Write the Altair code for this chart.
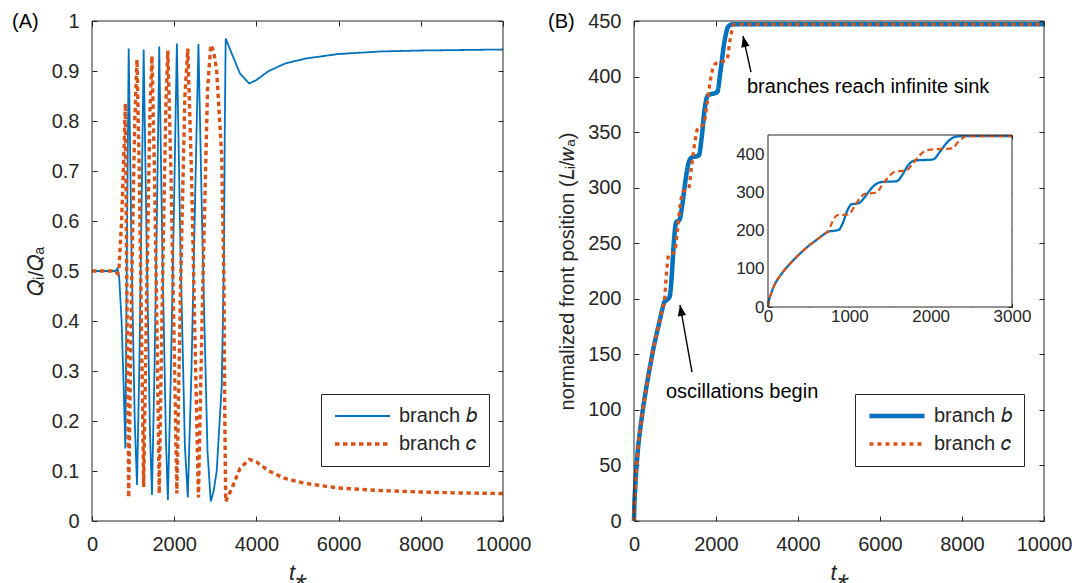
import altair as alt
import pandas as pd

# ---------------- data ----------------
# Panel (A): flow fraction Q_i/Q_a vs t*
tA = [0, 300, 560, 620, 660, 720, 770, 812,
      850, 893,
      960, 1040, 1095,
      1150, 1210, 1257,
      1330, 1410, 1459,
      1520, 1590, 1636,
      1710, 1800, 1846,
      1920, 2000, 2065,
      2150, 2260, 2331,
      2420, 2510, 2590,
      2690, 2810, 2889,
      2960, 3034, 3156, 3212, 3232, 3253,
      3400, 3600, 3826, 4000, 4300, 4700, 5200, 6000, 7000, 8000, 9000, 10000]
qb = [0.5, 0.5, 0.5, 0.505, 0.49, 0.40, 0.27, 0.145,
      0.55, 0.945,
      0.55, 0.20, 0.072,
      0.30, 0.65, 0.943,
      0.55, 0.18, 0.052,
      0.30, 0.67, 0.949,
      0.55, 0.16, 0.042,
      0.30, 0.65, 0.955,
      0.55, 0.15, 0.047,
      0.30, 0.65, 0.954,
      0.55, 0.14, 0.039,
      0.06, 0.10, 0.27, 0.53, 0.80, 0.965,
      0.935, 0.895, 0.875, 0.882, 0.900, 0.915, 0.925, 0.934, 0.939, 0.941, 0.942, 0.943]
qc = [0.5, 0.5, 0.5, 0.495, 0.51, 0.60, 0.72, 0.835,
      0.45, 0.047,
      0.45, 0.80, 0.923,
      0.70, 0.35, 0.068,
      0.45, 0.82, 0.930,
      0.70, 0.33, 0.055,
      0.45, 0.84, 0.941,
      0.70, 0.35, 0.055,
      0.45, 0.85, 0.945,
      0.70, 0.35, 0.047,
      0.45, 0.86, 0.952,
      0.94, 0.90, 0.73, 0.47, 0.20, 0.039,
      0.065, 0.105, 0.123, 0.118, 0.100, 0.085, 0.075, 0.066, 0.061, 0.058, 0.056, 0.055]

# Panel (B): normalized front position L_i/w_a vs t*
tBb = [0, 10, 30, 60, 100, 150, 200, 300, 400, 500, 600, 700, 740, 800, 870, 920, 970, 1030,
       1110, 1180, 1250, 1330, 1400, 1580, 1650, 1720, 1800, 2030, 2110, 2200, 2300, 2400, 3000, 10000]
Lb = [0, 15, 30, 48, 66, 82, 96, 120, 141, 160, 176, 192, 197, 199, 202, 220, 250, 269,
      271, 285, 305, 322, 327, 329, 345, 370, 383, 386, 405, 430, 445, 447, 447, 447]
tBc = [0, 10, 30, 60, 100, 150, 200, 300, 400, 500, 600, 700, 740, 790, 850, 990, 1060, 1130,
       1190, 1330, 1400, 1480, 1560, 1700, 1780, 1870, 1950, 2010, 2270, 2330, 2400, 2440, 3000, 10000]
Lc = [0, 15, 30, 48, 66, 82, 96, 120, 141, 160, 176, 192, 198, 222, 240, 242, 262, 285,
      296, 299, 318, 340, 354, 357, 375, 398, 410, 412, 415, 430, 443, 447, 447, 447]

series = ["branch 𝑏", "branch 𝑐"]

xticks_main = [0, 2000, 4000, 6000, 8000, 10000]
yticks_A = [0, 0.1, 0.2, 0.3, 0.4, 0.5, 0.6, 0.7, 0.8, 0.9, 1.0]
yticks_B = [0, 50, 100, 150, 200, 250, 300, 350, 400, 450]
xticks_in = [0, 500, 1000, 1500, 2000, 2500, 3000]
yticks_in = [0, 100, 200, 300, 400]

notes_t = [2756, 780]
notes_L = [390.6, 116]
notes_txt = ["branches reach infinite sink", "oscillations begin"]
arrow_id = ["a1", "a1", "a2", "a2"]
arrow_t = [2854, 2659, 1415, 1122]
arrow_L = [404, 436.5, 134, 194.4]
head_t = [2659, 1122]
head_L = [436.5, 194.4]
head_ang = [347.5, 350]

# ---------------- styling ----------------
BLUE = "#0072BD"
ORANGE = "#D95319"
INK = "#262626"
FONT = "Liberation Sans"
W, H = 1072, 583
AXR = [92, 503]
BXR = [634, 1044]
PYR = [521, 21]
IXR = [768, 1012]
IYR = [307, 135]

dfA = pd.DataFrame({"t": tA + tA, "v": qb + qc,
                    "s": [series[0]] * len(tA) + [series[1]] * len(tA)})
dfB = pd.DataFrame({"t": tBb + tBc, "v": Lb + Lc,
                    "s": [series[0]] * len(tBb) + [series[1]] * len(tBc)})
dfI = dfB[dfB["t"] <= 3000].copy()


def sc(dom, rng):
    return alt.Scale(domain=dom, range=rng, nice=False, zero=False)


def ax(orient, offset, values, tick=5, labels=True, title=None, size=20, pad=13, fmt="d", **kw):
    d = dict(orient=orient, offset=offset, values=values, tickSize=tick, domain=False,
             grid=False, labels=labels, ticks=True, tickColor=INK, tickWidth=1,
             labelColor=INK, labelFont=FONT, labelFontSize=size, labelPadding=pad,
             labelFlush=False, labelOverlap=False, format=fmt, title=title,
             titleFont=FONT, titleColor=INK, titleFontWeight="normal")
    d.update(kw)
    return alt.Axis(**d)


def legend(x, y):
    return alt.Legend(title=None, orient="none", legendX=x, legendY=y, padding=12,
                      strokeColor=INK, fillColor="white", labelFont=FONT, labelFontSize=20,
                      labelColor=INK, symbolSize=3025, labelOffset=7, clipHeight=20,
                      rowPadding=8, symbolType="stroke", cornerRadius=0)


box = lambda x1, y1: pd.DataFrame({"x0": [0], "x1": [x1], "y0": [0], "y1": [y1]})

# ---------------- panel A ----------------
legA = legend(321, 394)
A_lines = alt.Chart(dfA).mark_line(interpolate="linear").encode(
    x=alt.X("t:Q", scale=sc([0, 10000], AXR),
            axis=ax("bottom", -67, xticks_main, title="t⁎", titleFontSize=22,
                    titleFontStyle="italic", titleY=46)),
    y=alt.Y("v:Q", scale=sc([0, 1], PYR),
            axis=ax("left", -97, yticks_A, title="𝑄ᵢ/𝑄ₐ", titleFontSize=21, titleX=-51,
                    fmt="~g")),
    color=alt.Color("s:N", scale=alt.Scale(domain=series, range=[BLUE, ORANGE]), legend=legA),
    strokeDash=alt.StrokeDash("s:N", scale=alt.Scale(domain=series, range=[[1, 0], [4.5, 3.5]]),
                              legend=legA),
    strokeWidth=alt.StrokeWidth("s:N", scale=alt.Scale(domain=series, range=[1.8, 3.4]),
                                legend=legA),
)
A_frame = alt.Chart(box(10000, 1)).mark_rect(fillOpacity=0, stroke=INK, strokeWidth=1).encode(
    x=alt.X("x0:Q", scale=sc([0, 10000], AXR), axis=ax("top", -26, xticks_main, labels=False)),
    x2="x1:Q",
    y=alt.Y("y0:Q", scale=sc([0, 1], PYR),
            axis=ax("right", -(W - AXR[1] + 5), yticks_A, labels=False, fmt="~g")),
    y2="y1:Q",
)
A_tag = alt.Chart(pd.DataFrame({"t": [-1946], "v": [0.998], "lab": ["(A)"]})).mark_text(
    align="left", baseline="middle", font=FONT, fontSize=20, color="black").encode(
    x=alt.X("t:Q", scale=sc([0, 10000], AXR), axis=None),
    y=alt.Y("v:Q", scale=sc([0, 1], PYR), axis=None),
    text="lab:N",
)

# ---------------- panel B ----------------
legB = legend(855, 394)
B_lines = alt.Chart(dfB).mark_line(interpolate="monotone").encode(
    x=alt.X("t:Q", scale=sc([0, 10000], BXR),
            axis=ax("bottom", -67, xticks_main, title="t⁎", titleFontSize=22,
                    titleFontStyle="italic", titleY=46)),
    y=alt.Y("v:Q", scale=sc([0, 450], PYR),
            axis=ax("left", -(BXR[0] + 5), yticks_B, title="normalized front position (𝐿ᵢ/𝑤ₐ)",
                    titleFontSize=20, titleX=-62)),
    color=alt.Color("s:N", scale=alt.Scale(domain=series, range=[BLUE, ORANGE]), legend=legB),
    strokeDash=alt.StrokeDash("s:N", scale=alt.Scale(domain=series, range=[[1, 0], [4, 4]]),
                              legend=legB),
    strokeWidth=alt.StrokeWidth("s:N", scale=alt.Scale(domain=series, range=[4.5, 3.3]),
                                legend=legB),
)
B_frame = alt.Chart(box(10000, 450)).mark_rect(fillOpacity=0, stroke=INK, strokeWidth=1).encode(
    x=alt.X("x0:Q", scale=sc([0, 10000], BXR), axis=ax("top", -26, xticks_main, labels=False)),
    x2="x1:Q",
    y=alt.Y("y0:Q", scale=sc([0, 450], PYR), axis=ax("right", -(W - BXR[1] + 5), yticks_B, labels=False)),
    y2="y1:Q",
)
B_tag = alt.Chart(pd.DataFrame({"t": [-2098], "v": [449], "lab": ["(B)"]})).mark_text(
    align="left", baseline="middle", font=FONT, fontSize=20, color="black").encode(
    x=alt.X("t:Q", scale=sc([0, 10000], BXR), axis=None),
    y=alt.Y("v:Q", scale=sc([0, 450], PYR), axis=None),
    text="lab:N",
)

# inset
I_bg = alt.Chart(box(3000, 450)).mark_rect(fill="white", stroke=None).encode(
    x=alt.X("x0:Q", scale=sc([0, 3000], IXR),
            axis=ax("bottom", -(H - IYR[0] + 4), xticks_in, tick=4, size=17, pad=1,
                    labelExpr="datum.value % 1000 == 0 ? datum.label : ''")),
    x2="x1:Q",
    y=alt.Y("y0:Q", scale=sc([0, 450], IYR),
            axis=ax("left", -(IXR[0] + 4), yticks_in, tick=4, size=17, pad=4)),
    y2="y1:Q",
)
I_lines = alt.Chart(dfI).mark_line(interpolate="monotone").encode(
    x=alt.X("t:Q", scale=sc([0, 3000], IXR),
            axis=ax("top", -(IYR[1] + 4), xticks_in, tick=4, labels=False)),
    y=alt.Y("v:Q", scale=sc([0, 450], IYR),
            axis=ax("right", -(W - IXR[1] + 4), yticks_in, tick=4, labels=False)),
    color=alt.Color("s:N", scale=alt.Scale(domain=series, range=[BLUE, ORANGE]), legend=None),
    strokeDash=alt.StrokeDash("s:N", scale=alt.Scale(domain=series, range=[[1, 0], [6, 3.5]]),
                              legend=None),
    strokeWidth=alt.StrokeWidth("s:N", scale=alt.Scale(domain=series, range=[2.3, 2.2]),
                                legend=None),
)
I_frame = alt.Chart(box(3000, 450)).mark_rect(fillOpacity=0, stroke=INK, strokeWidth=1).encode(
    x=alt.X("x0:Q", scale=sc([0, 3000], IXR), axis=None),
    x2="x1:Q",
    y=alt.Y("y0:Q", scale=sc([0, 450], IYR), axis=None),
    y2="y1:Q",
)

# annotations
N_text = alt.Chart(pd.DataFrame({"t": notes_t, "v": notes_L, "txt": notes_txt})).mark_text(
    align="left", baseline="middle", font=FONT, fontSize=20, color="black").encode(
    x=alt.X("t:Q", scale=sc([0, 10000], BXR), axis=None),
    y=alt.Y("v:Q", scale=sc([0, 450], PYR), axis=None),
    text="txt:N",
)
N_arrows = alt.Chart(pd.DataFrame({"t": arrow_t, "v": arrow_L, "id": arrow_id})).mark_line(
    color="black", strokeWidth=1.4).encode(
    x=alt.X("t:Q", scale=sc([0, 10000], BXR), axis=None),
    y=alt.Y("v:Q", scale=sc([0, 450], PYR), axis=None),
    detail="id:N",
)
N_heads = alt.Chart(pd.DataFrame({"t": head_t, "v": head_L, "a": head_ang})).mark_point(
    shape="M0,0 L-0.38,1 L0.38,1 Z", filled=True, color="black", opacity=1, size=484).encode(
    x=alt.X("t:Q", scale=sc([0, 10000], BXR), axis=None),
    y=alt.Y("v:Q", scale=sc([0, 450], PYR), axis=None),
    angle=alt.Angle("a:Q", scale=None),
)

chart = alt.layer(
    A_lines, A_frame, A_tag,
    B_lines, B_frame, B_tag,
    I_bg, I_lines, I_frame,
    N_arrows, N_heads, N_text,
).resolve_scale(
    x="independent", y="independent", color="independent",
    strokeDash="independent", strokeWidth="independent", angle="independent",
).resolve_axis(x="independent", y="independent").resolve_legend(
    color="independent", strokeDash="independent", strokeWidth="independent",
).properties(
    width=W, height=H, autosize=alt.AutoSizeParams(type="none"), padding=0,
    background="white",
).configure_view(strokeWidth=0)

chart.save("out.html", embed_options={"renderer": "svg", "actions": False})
